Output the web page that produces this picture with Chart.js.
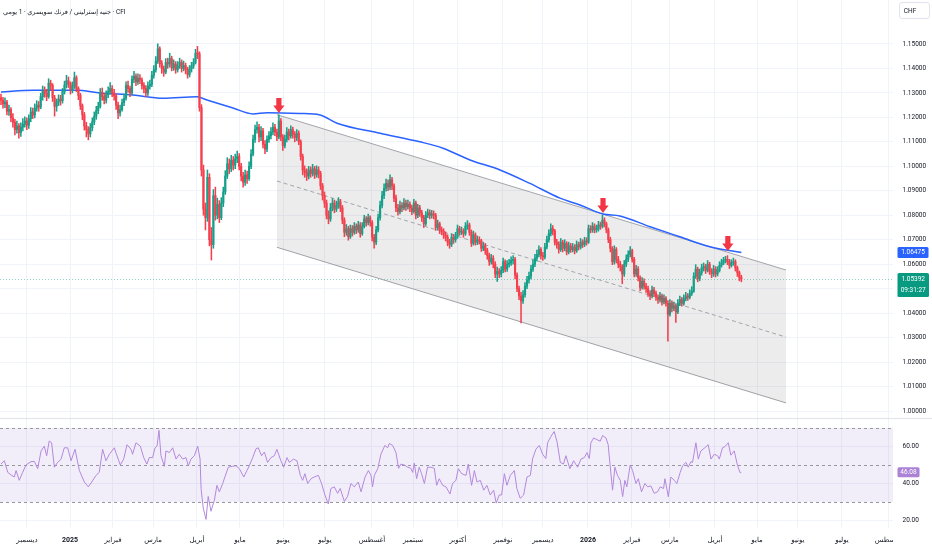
<!DOCTYPE html>
<html><head><meta charset="utf-8">
<script src="https://cdn.jsdelivr.net/npm/chart.js@4.4.1/dist/chart.umd.min.js"></script>
<style>
html,body{margin:0;padding:0;background:#fff;width:932px;height:550px;overflow:hidden}
#main{position:absolute;left:0;top:0;width:932px;height:418px}
#rsi{position:absolute;left:0;top:418px;width:932px;height:132px}
</style></head><body>
<div id="main"><canvas id="c1"></canvas></div>
<div id="rsi"><canvas id="c2"></canvas></div>
<script>
// ---------- DATA (daily candles, bar index 0 = first visible day) ----------
const titleText = 'CFI · جنيه إسترليني / فرنك سويسري · 1 يومي';
const firstOpen = 1.1280;
const closes = [
1.1270,1.1255,1.1262,1.1225,1.1232,1.1198,1.1180,1.1150,1.1165,1.1138,
1.1160,1.1172,1.1185,1.1168,1.1195,1.1222,1.1210,1.1238,1.1250,1.1242,
1.1285,1.1310,1.1300,1.1285,1.1340,1.1330,1.1280,1.1245,1.1262,1.1275,
1.1268,1.1305,1.1332,1.1350,1.1338,1.1310,1.1328,1.1362,1.1318,1.1290,
1.1248,1.1210,1.1165,1.1150,1.1132,1.1158,1.1182,1.1205,1.1228,1.1245,
1.1302,1.1285,1.1270,1.1292,1.1305,1.1318,1.1300,1.1288,1.1250,1.1218,
1.1232,1.1260,1.1278,1.1330,1.1318,1.1300,1.1355,1.1368,1.1345,1.1360,
1.1352,1.1330,1.1318,1.1300,1.1328,1.1335,1.1372,1.1395,1.1430,1.1480,
1.1420,1.1398,1.1385,1.1425,1.1418,1.1440,1.1402,1.1418,1.1395,1.1410,
1.1425,1.1400,1.1412,1.1395,1.1375,1.1398,1.1410,1.1425,1.1462,1.1460,
1.1240,1.0985,1.0825,1.0790,1.0955,1.0700,1.0680,1.0880,1.0800,1.0845,
1.0790,1.0850,1.0895,1.0960,1.1010,1.0990,1.1025,1.1005,1.1030,1.1040,
1.1000,1.0960,1.0935,1.0965,1.0950,1.1000,1.1050,1.1110,1.1150,1.1160,
1.1120,1.1145,1.1090,1.1070,1.1110,1.1125,1.1140,1.1160,1.1140,1.1120,
1.1185,1.1120,1.1085,1.1110,1.1140,1.1125,1.1150,1.1130,1.1118,1.1135,
1.1100,1.1040,1.0985,1.0975,1.0960,1.0985,1.0970,1.0990,1.0965,1.0985,
1.0970,1.0920,1.0880,1.0850,1.0800,1.0785,1.0830,1.0850,1.0825,1.0840,
1.0855,1.0830,1.0780,1.0730,1.0745,1.0712,1.0745,1.0730,1.0755,1.0740,
1.0760,1.0725,1.0755,1.0785,1.0770,1.0790,1.0770,1.0710,1.0690,1.0740,
1.0790,1.0840,1.0880,1.0910,1.0930,1.0915,1.0945,1.0920,1.0870,1.0830,
1.0815,1.0840,1.0830,1.0850,1.0835,1.0845,1.0830,1.0815,1.0850,1.0800,
1.0830,1.0810,1.0790,1.0765,1.0800,1.0810,1.0800,1.0805,1.0800,1.0750,
1.0765,1.0740,1.0735,1.0720,1.0710,1.0690,1.0680,1.0710,1.0700,1.0715,
1.0745,1.0730,1.0735,1.0725,1.0755,1.0760,1.0730,1.0685,1.0720,1.0690,
1.0700,1.0695,1.0665,1.0675,1.0655,1.0635,1.0610,1.0625,1.0600,1.0560,
1.0570,1.0560,1.0575,1.0610,1.0580,1.0600,1.0605,1.0615,1.0620,1.0555,
1.0500,1.0470,1.0450,1.0475,1.0510,1.0535,1.0550,1.0580,1.0600,1.0625,
1.0640,1.0660,1.0635,1.0630,1.0670,1.0700,1.0725,1.0745,1.0735,1.0690,
1.0680,1.0660,1.0690,1.0665,1.0685,1.0650,1.0675,1.0660,1.0670,1.0655,
1.0680,1.0670,1.0690,1.0680,1.0695,1.0690,1.0745,1.0740,1.0755,1.0740,
1.0745,1.0760,1.0755,1.0780,1.0765,1.0740,1.0700,1.0665,1.0610,1.0660,
1.0620,1.0600,1.0590,1.0560,1.0600,1.0620,1.0640,1.0655,1.0620,1.0560,
1.0580,1.0545,1.0505,1.0530,1.0510,1.0500,1.0480,1.0470,1.0495,1.0480,
1.0465,1.0455,1.0470,1.0445,1.0460,1.0440,1.0395,1.0440,1.0420,1.0430,
1.0405,1.0440,1.0455,1.0440,1.0460,1.0470,1.0465,1.0480,1.0490,1.0550,
1.0580,1.0540,1.0565,1.0585,1.0590,1.0575,1.0600,1.0570,1.0560,1.0580,
1.0560,1.0575,1.0595,1.0605,1.0615,1.0620,1.0610,1.0595,1.0605,1.0610,
1.0585,1.0565,1.0545,1.0539];
const highs = [
1.1295,1.1282,1.1280,1.1270,1.1250,1.1240,1.1215,1.1192,1.1185,1.1175,
1.1178,1.1195,1.1202,1.1198,1.1210,1.1240,1.1238,1.1255,1.1268,1.1265,
1.1298,1.1328,1.1325,1.1315,1.1358,1.1352,1.1338,1.1290,1.1275,1.1292,
1.1290,1.1318,1.1348,1.1372,1.1365,1.1345,1.1345,1.1385,1.1370,1.1325,
1.1298,1.1255,1.1220,1.1180,1.1162,1.1175,1.1198,1.1222,1.1245,1.1262,
1.1318,1.1320,1.1298,1.1308,1.1325,1.1342,1.1330,1.1315,1.1295,1.1262,
1.1250,1.1275,1.1295,1.1345,1.1348,1.1328,1.1370,1.1388,1.1378,1.1378,
1.1375,1.1362,1.1342,1.1330,1.1345,1.1352,1.1388,1.1412,1.1448,1.1500,
1.1488,1.1432,1.1410,1.1440,1.1442,1.1462,1.1450,1.1435,1.1428,1.1428,
1.1442,1.1435,1.1430,1.1422,1.1405,1.1412,1.1425,1.1440,1.1478,1.1490,
1.1468,1.1252,1.1005,1.0850,1.0985,1.0970,1.0750,1.0905,1.0915,1.0870,
1.0860,1.0872,1.0915,1.0982,1.1035,1.1030,1.1045,1.1040,1.1050,1.1062,
1.1052,1.1012,1.0975,1.0985,1.0980,1.1018,1.1068,1.1128,1.1168,1.1182,
1.1172,1.1162,1.1155,1.1105,1.1125,1.1142,1.1158,1.1178,1.1172,1.1152,
1.1210,1.1195,1.1130,1.1128,1.1158,1.1152,1.1165,1.1160,1.1142,1.1150,
1.1145,1.1108,1.1050,1.1002,1.0990,1.1000,1.0998,1.1008,1.1000,1.1002,
1.0998,1.0980,1.0930,1.0895,1.0862,1.0818,1.0848,1.0868,1.0862,1.0858,
1.0872,1.0865,1.0840,1.0790,1.0762,1.0755,1.0760,1.0758,1.0770,1.0765,
1.0775,1.0770,1.0770,1.0800,1.0795,1.0805,1.0798,1.0778,1.0722,1.0755,
1.0805,1.0858,1.0898,1.0928,1.0948,1.0945,1.0965,1.0955,1.0928,1.0882,
1.0845,1.0858,1.0852,1.0868,1.0862,1.0862,1.0855,1.0842,1.0865,1.0858,
1.0845,1.0840,1.0820,1.0800,1.0815,1.0825,1.0822,1.0820,1.0818,1.0808,
1.0780,1.0772,1.0752,1.0745,1.0732,1.0720,1.0702,1.0725,1.0722,1.0730,
1.0760,1.0755,1.0752,1.0745,1.0770,1.0778,1.0768,1.0740,1.0735,1.0728,
1.0715,1.0712,1.0702,1.0690,1.0685,1.0665,1.0645,1.0640,1.0635,1.0610,
1.0588,1.0582,1.0590,1.0625,1.0618,1.0615,1.0620,1.0630,1.0635,1.0628,
1.0565,1.0510,1.0485,1.0492,1.0525,1.0550,1.0568,1.0595,1.0618,1.0640,
1.0658,1.0675,1.0668,1.0648,1.0685,1.0715,1.0740,1.0765,1.0758,1.0742,
1.0702,1.0692,1.0705,1.0698,1.0700,1.0692,1.0690,1.0685,1.0685,1.0680,
1.0695,1.0690,1.0705,1.0700,1.0710,1.0708,1.0760,1.0758,1.0770,1.0765,
1.0760,1.0775,1.0772,1.0800,1.0790,1.0772,1.0748,1.0710,1.0672,1.0675,
1.0668,1.0632,1.0612,1.0598,1.0615,1.0638,1.0655,1.0672,1.0662,1.0628,
1.0595,1.0590,1.0552,1.0545,1.0540,1.0522,1.0510,1.0492,1.0510,1.0505,
1.0490,1.0475,1.0485,1.0478,1.0475,1.0468,1.0450,1.0455,1.0450,1.0445,
1.0438,1.0455,1.0470,1.0465,1.0475,1.0485,1.0480,1.0495,1.0508,1.0565,
1.0598,1.0588,1.0580,1.0600,1.0605,1.0600,1.0615,1.0608,1.0582,1.0595,
1.0590,1.0590,1.0610,1.0620,1.0628,1.0632,1.0635,1.0620,1.0618,1.0625,
1.0618,1.0592,1.0572,1.0555];
const lows = [
1.1252,1.1238,1.1240,1.1210,1.1208,1.1182,1.1160,1.1128,1.1135,1.1115,
1.1122,1.1145,1.1160,1.1150,1.1155,1.1182,1.1195,1.1198,1.1225,1.1225,
1.1235,1.1270,1.1282,1.1268,1.1278,1.1312,1.1265,1.1205,1.1225,1.1248,
1.1250,1.1258,1.1295,1.1320,1.1322,1.1295,1.1300,1.1318,1.1305,1.1272,
1.1232,1.1190,1.1148,1.1120,1.1108,1.1120,1.1145,1.1170,1.1192,1.1215,
1.1238,1.1270,1.1255,1.1258,1.1280,1.1295,1.1285,1.1270,1.1232,1.1195,
1.1205,1.1225,1.1248,1.1270,1.1302,1.1285,1.1292,1.1342,1.1330,1.1335,
1.1338,1.1315,1.1300,1.1285,1.1290,1.1315,1.1325,1.1360,1.1385,1.1420,
1.1405,1.1380,1.1368,1.1378,1.1400,1.1405,1.1390,1.1392,1.1380,1.1385,
1.1400,1.1385,1.1390,1.1378,1.1360,1.1365,1.1385,1.1400,1.1418,1.1440,
1.1225,1.0960,1.0800,1.0740,1.0775,1.0675,1.0617,1.0665,1.0780,1.0785,
1.0770,1.0782,1.0835,1.0885,1.0950,1.0970,1.0978,1.0985,1.0990,1.1015,
1.0985,1.0940,1.0915,1.0922,1.0930,1.0942,1.0990,1.1042,1.1098,1.1135,
1.1100,1.1105,1.1075,1.1052,1.1060,1.1098,1.1112,1.1128,1.1125,1.1105,
1.1112,1.1105,1.1065,1.1075,1.1100,1.1108,1.1115,1.1115,1.1100,1.1105,
1.1088,1.1025,1.0965,1.0955,1.0942,1.0948,1.0955,1.0960,1.0950,1.0955,
1.0952,1.0905,1.0862,1.0832,1.0785,1.0765,1.0775,1.0818,1.0810,1.0815,
1.0828,1.0815,1.0765,1.0712,1.0718,1.0698,1.0705,1.0715,1.0722,1.0725,
1.0730,1.0710,1.0718,1.0748,1.0755,1.0760,1.0755,1.0695,1.0665,1.0680,
1.0732,1.0780,1.0830,1.0868,1.0898,1.0900,1.0905,1.0905,1.0855,1.0815,
1.0800,1.0805,1.0815,1.0822,1.0820,1.0825,1.0815,1.0802,1.0808,1.0785,
1.0790,1.0795,1.0775,1.0750,1.0758,1.0790,1.0785,1.0788,1.0785,1.0738,
1.0740,1.0725,1.0720,1.0705,1.0695,1.0675,1.0665,1.0672,1.0685,1.0690,
1.0705,1.0718,1.0720,1.0710,1.0718,1.0742,1.0718,1.0672,1.0678,1.0678,
1.0680,1.0682,1.0652,1.0655,1.0640,1.0620,1.0595,1.0600,1.0585,1.0545,
1.0530,1.0545,1.0548,1.0565,1.0568,1.0570,1.0588,1.0595,1.0600,1.0540,
1.0488,1.0455,1.0360,1.0440,1.0465,1.0500,1.0522,1.0540,1.0570,1.0590,
1.0612,1.0630,1.0620,1.0615,1.0622,1.0662,1.0690,1.0715,1.0720,1.0678,
1.0665,1.0645,1.0652,1.0650,1.0655,1.0638,1.0642,1.0648,1.0650,1.0642,
1.0648,1.0658,1.0662,1.0668,1.0672,1.0678,1.0685,1.0728,1.0730,1.0728,
1.0730,1.0735,1.0742,1.0748,1.0752,1.0728,1.0688,1.0650,1.0598,1.0600,
1.0605,1.0585,1.0572,1.0520,1.0550,1.0590,1.0610,1.0630,1.0608,1.0548,
1.0550,1.0532,1.0492,1.0498,1.0498,1.0485,1.0468,1.0455,1.0462,1.0468,
1.0452,1.0440,1.0445,1.0432,1.0438,1.0428,1.0285,1.0388,1.0405,1.0410,
1.0362,1.0398,1.0430,1.0428,1.0432,1.0450,1.0452,1.0458,1.0472,1.0485,
1.0542,1.0528,1.0532,1.0555,1.0572,1.0562,1.0568,1.0558,1.0545,1.0550,
1.0548,1.0552,1.0568,1.0588,1.0598,1.0605,1.0598,1.0582,1.0588,1.0595,
1.0572,1.0550,1.0532,1.0528];

// moving average (blue line), read at sample bars
const maBars = [0,16,38,50,66.5,81.6,98.7,103.8,116.9,127,134,150.6,160.7,169.3,191,211,222.7,236.3,251.4,266.5,281.6,291.7,303.3,311.8,327,342,357.2,373];
const maValues = [1.1304,1.1311,1.1311,1.1300,1.1291,1.1278,1.1284,1.1271,1.1238,1.1214,1.1219,1.1216,1.1210,1.1176,1.1135,1.1100,1.1074,1.1026,1.0985,1.0930,1.0870,1.0842,1.0805,1.0797,1.0753,1.0712,1.0671,1.06475];

// descending channel
const channelBars  = [139, 395.5];
const channelUpper = [1.1211, 1.0576];
const channelLower = [1.0669, 1.0033];
const channelMid   = [1.0940, 1.0302];

// red arrows (tip position)
const arrowBars = [140, 303.3, 366.2];
const arrowTips = [1.1218, 1.0809, 1.0654];

// RSI
const rsiBars = [0,1.7,3.4,5,6.7,7.6,9.2,10.9,12.6,15.1,16.8,18.5,20.2,21.8,23,24.3,25.5,26.9,28.5,30.2,31.9,33.6,35.3,37.3,39.5,42,44,45.7,47.9,49.5,51.2,52.9,54.6,57.1,57.9,60.1,61.8,63.5,65.5,66.3,68,70.2,71.9,73.5,74.7,76.4,77.6,78.6,79.6,80.6,82.3,83.1,84.8,86.5,88.2,89.8,91.5,93.2,94.4,95.7,97.4,99.1,100.3,100.8,101.9,103.3,104.4,105.8,107.5,108.8,110,111.7,112.8,114.5,116.7,118.4,120.1,122.3,123.9,125.1,126.8,128.5,129.6,131.3,132.7,134.3,136,137.7,139,140.7,142.4,144.1,145.3,147.4,149.1,150.8,152,153.1,154.5,156.2,157.8,159.9,161.5,163.2,164.9,166.2,167.9,169.6,170.9,173,174.6,176.3,178,180,181.4,183.4,185.1,
186.4,187.2,188.1,189.8,191.4,193.4,194.8,195.6,197.3,199,200.3,201.5,203.2,204.9,206.5,207.4,208.2,209.4,210.7,211.9,213.3,214.9,216.6,218.3,219.5,220.8,222.5,224.2,226.2,227.5,229.2,230.4,232.1,234.3,235.4,237.1,238.5,239.8,241.5,243.2,244.8,246.5,248.2,249.5,251,252.2,253.6,254.9,256.6,258.6,259.9,261.6,263.3,265,266.7,267.8,269.5,271.2,272.9,274.5,275.4,277.1,278.7,280.1,281.8,283.4,284.6,286.6,288.5,290.5,292.2,293.9,295.2,296.4,297.2,298.6,300.2,301.9,303.1,304.8,305.9,306.9,308.1,309.3,310.6,312,313.2,314.3,315.3,317,318.2,319.9,321.1,322.7,324.4,325.8,327.4,329.1,330.8,332.1,333.8,334.5,336.2,337.5,339.2,340.5,342.2,343.4,345.1,346.2,347.6,348.4,350.1,351.3,352.6,354.6,356.3,357.7,359.3,361,361.9,363.5,364.7,366.4,367.7,369.4,371.1,372.4,373];
const rsiValues = [50.5,52.3,46,44.7,43.5,47,41.7,46,50,51.8,52,48,57.6,60.2,55,63,62,48.8,51.4,53,59.3,59.3,52.3,58.5,47,40.8,38.2,40.8,44.4,46,58.5,52.3,55.8,59.3,56.7,50,53.2,61,58.5,55.8,62,60.2,54,50.5,54,54,59.3,60.2,68.7,55,49.3,57.6,56.7,59.3,53.2,55.8,53.2,54,49.6,53.2,55,60.2,53.2,37.3,26.7,20.6,33,25,31,39,35.5,40,43.5,48.8,49.3,49.6,48,43.5,47,49.6,54,58.8,59.3,55,57,51.4,54,55,58.5,53.2,48.8,54,51.4,53.2,52.3,44.4,41.7,45.3,40,42.6,43.5,44.4,40,33.8,28.9,37.3,38.2,34.7,37.3,30.3,33,40,38.2,40.8,35.5,43.5,47,
44.4,38.2,44.4,48,55.8,60.6,59.3,61.6,60.6,56.7,48.2,50.5,50,48.8,48.2,46,51,42.6,48.8,45.3,40,48.8,48.8,48.2,39,42.6,39,38.2,34.3,40,41.7,48,45.3,44.4,50.5,39,47,40.8,41.7,36.4,39,33.8,36.4,29.4,33.8,33.8,45.3,39,44.4,47,37.3,32,33.8,43.5,44.4,53.2,58.5,60.6,55.8,53.5,62,65.5,68.1,62.7,51.4,50.5,55,48,52.3,48.8,53.2,54,56.7,53.5,62,64.6,63.7,62.9,65.9,64.6,61,49.6,36.4,48.8,44.4,41.7,32.9,41.7,38.2,50,47,40,42.6,35.5,40,38.2,38.7,34.7,35.5,38.2,37.3,42.6,32.9,43.5,41.7,40,46,49.6,51.4,48.8,51.8,51.4,62,53.2,57.6,59.3,61,53.2,55.8,55,53.2,59.3,59.9,62,55.3,57.6,49.6,45.8,46.08];
const rsiLevels = [70, 50, 30];

// axes
const monthTickBars = [13.1,34.8,56.4,76.6,98.7,120.4,142.1,163.2,186.9,207.6,230.2,252.9,273,295.7,317.9,337,359.7,380.9,401.5,423.7,446.9];
const monthTickLabels = ['ديسمبر','2025','فبراير','مارس','أبريل','مايو','يونيو','يوليو','أغسطس','سبتمبر','أكتوبر','نوفمبر','ديسمبر','2026','فبراير','مارس','أبريل','مايو','يونيو','يوليو','أغسطس'];
const priceTicks = [1.00,1.01,1.02,1.03,1.04,1.05,1.06,1.07,1.08,1.09,1.10,1.11,1.12,1.13,1.14,1.15];
const rsiTicks = [20, 40, 60];
const lastPrice = 1.05392, lastMA = 1.06475, lastRSI = 46.08, countdown = '09:31:27';
const currencyLabel = 'CHF';

// ---------- RENDER ----------
const FONT = "Roboto, 'DejaVu Sans', sans-serif";
const UP = '#16a08a', DN = '#f43f4d', GRID = '#f0f3fa', TXT = '#131722';
const X_MIN = -0.5, X_MAX = 449.4;
const opens = closes.map((c, i) => i === 0 ? firstOpen : closes[i - 1]); // FX daily open = prior close
const candleColors = closes.map((c, i) => c >= opens[i] ? UP : DN);
const pts = (xs, ys) => xs.map((b, i) => ({x: b, y: ys[i]}));

function rrect(ctx, x, y, w, h, r) {
  ctx.beginPath();
  ctx.moveTo(x + r, y); ctx.lineTo(x + w - r, y); ctx.quadraticCurveTo(x + w, y, x + w, y + r);
  ctx.lineTo(x + w, y + h - r); ctx.quadraticCurveTo(x + w, y + h, x + w - r, y + h);
  ctx.lineTo(x + r, y + h); ctx.quadraticCurveTo(x, y + h, x, y + h - r);
  ctx.lineTo(x, y + r); ctx.quadraticCurveTo(x, y, x + r, y); ctx.closePath();
}

const mainOverlay = {
  id: 'mainOverlay',
  beforeDatasetsDraw(chart) {
    const {ctx, chartArea: a, scales: {y}} = chart;
    const py = Math.round(y.getPixelForValue(lastPrice)) + 0.5;
    ctx.save();
    ctx.strokeStyle = 'rgba(8,153,129,0.45)'; ctx.lineWidth = 1; ctx.setLineDash([1, 2]);
    ctx.beginPath(); ctx.moveTo(a.left, py); ctx.lineTo(a.right, py); ctx.stroke();
    ctx.restore();
  },
  afterDatasetsDraw(chart) {
    const {ctx, scales: {x, y}} = chart;
    ctx.save(); ctx.fillStyle = '#f23645';
    arrowBars.forEach((b, i) => {
      const tx = x.getPixelForValue(b), ty = y.getPixelForValue(arrowTips[i]);
      ctx.beginPath();
      ctx.moveTo(tx - 2.6, ty - 15); ctx.lineTo(tx + 2.6, ty - 15); ctx.lineTo(tx + 2.6, ty - 7.5);
      ctx.lineTo(tx + 5.6, ty - 7.5); ctx.lineTo(tx, ty); ctx.lineTo(tx - 5.6, ty - 7.5); ctx.lineTo(tx - 2.6, ty - 7.5);
      ctx.closePath(); ctx.fill();
    });
    ctx.restore();
  },
  afterDraw(chart) {
    const {ctx, chartArea: a, scales: {y}} = chart;
    ctx.save();
    ctx.font = `6.5px ${FONT}`; ctx.fillStyle = TXT; ctx.textAlign = 'left'; ctx.textBaseline = 'middle';
    priceTicks.forEach(v => ctx.fillText(v.toFixed(5), 902.5, y.getPixelForValue(v)));
    // MA label
    let py = y.getPixelForValue(lastMA);
    ctx.fillStyle = '#2962ff'; rrect(ctx, 897.5, py - 5.5, 31, 11, 1.5); ctx.fill();
    ctx.fillStyle = '#fff'; ctx.textAlign = 'center'; ctx.fillText(lastMA.toFixed(5), 913, py + 0.3);
    // last price label
    py = y.getPixelForValue(lastPrice);
    ctx.fillStyle = '#089981'; rrect(ctx, 897.5, py - 6, 31.5, 24, 1.5); ctx.fill();
    ctx.fillStyle = '#fff'; ctx.fillText(lastPrice.toFixed(5), 913.2, py + 0.3); ctx.fillText(countdown, 913.2, py + 11.5);
    // currency button
    ctx.fillStyle = '#fff'; ctx.strokeStyle = '#e0e3eb'; ctx.lineWidth = 1;
    rrect(ctx, 899.5, 2.5, 30, 16, 2.5); ctx.fill(); ctx.stroke();
    ctx.fillStyle = TXT; ctx.fillText(currencyLabel, 910, 11);
    // title
    ctx.font = `6.5px ${FONT}`; ctx.direction = 'rtl'; ctx.textAlign = 'left'; ctx.fillStyle = TXT;
    ctx.fillText(titleText, 3, 12.5);
    ctx.restore();
  }
};

new Chart(document.getElementById('c1'), {
  type: 'bar',
  data: {datasets: [
    {type: 'line', data: pts(channelBars, channelUpper), borderColor: '#a2a4ab', borderWidth: 1, pointRadius: 0, fill: '+1', backgroundColor: 'rgba(128,128,128,0.15)', order: 10},
    {type: 'line', data: pts(channelBars, channelLower), borderColor: '#a2a4ab', borderWidth: 1, pointRadius: 0, fill: false, order: 10},
    {type: 'line', data: pts(channelBars, channelMid), borderColor: '#a2a4ab', borderWidth: 1, borderDash: [4, 3], pointRadius: 0, fill: false, order: 9},
    {type: 'line', data: pts(maBars, maValues), borderColor: '#2962ff', borderWidth: 1.5, pointRadius: 0, cubicInterpolationMode: 'monotone', fill: false, order: 2},
    {type: 'bar', data: closes.map((c, i) => ({x: i, y: [lows[i], highs[i]]})), backgroundColor: candleColors, barThickness: 0.9, grouped: false, borderWidth: 0, order: 1},
    {type: 'bar', data: closes.map((c, i) => ({x: i, y: [opens[i], c]})), backgroundColor: candleColors, barThickness: 1.5, minBarLength: 1, grouped: false, borderWidth: 0, order: 0}
  ]},
  options: {
    animation: false, responsive: true, maintainAspectRatio: false, layout: {padding: 0},
    plugins: {legend: {display: false}, tooltip: {enabled: false}},
    scales: {
      x: {type: 'linear', min: X_MIN, max: X_MAX, offset: false, ticks: {display: false},
          grid: {color: GRID, drawTicks: false, offset: false}, border: {display: false},
          afterBuildTicks: s => { s.ticks = monthTickBars.map(v => ({value: v})); }},
      y: {position: 'right', min: 0.99714, max: 1.16796, ticks: {display: false},
          grid: {color: GRID, drawTicks: false}, border: {display: false},
          afterBuildTicks: s => { s.ticks = priceTicks.map(v => ({value: v})); },
          afterFit: s => { s.width = 39; }}
    }
  },
  plugins: [mainOverlay]
});

const rsiOverlay = {
  id: 'rsiOverlay',
  beforeDatasetsDraw(chart) {
    const {ctx, chartArea: a, scales: {y}} = chart;
    ctx.save();
    const y70 = y.getPixelForValue(rsiLevels[0]), y30 = y.getPixelForValue(rsiLevels[2]);
    ctx.fillStyle = 'rgba(126,87,194,0.1)'; ctx.fillRect(a.left, y70, a.right - a.left, y30 - y70);
    ctx.strokeStyle = '#9598a1'; ctx.lineWidth = 1; ctx.setLineDash([3, 3]);
    rsiLevels.forEach(v => { const py = Math.round(y.getPixelForValue(v)) + 0.5; ctx.beginPath(); ctx.moveTo(a.left, py); ctx.lineTo(a.right, py); ctx.stroke(); });
    ctx.restore();
  },
  afterDraw(chart) {
    const {ctx, chartArea: a, scales: {y}, width, height} = chart;
    ctx.save();
    ctx.fillStyle = '#fff'; ctx.fillRect(a.right, a.bottom + 1, width - a.right, height - a.bottom);
    ctx.strokeStyle = '#e0e3eb'; ctx.lineWidth = 1; ctx.beginPath(); ctx.moveTo(0, 0.5); ctx.lineTo(width, 0.5); ctx.stroke();
    ctx.font = `6.5px ${FONT}`; ctx.fillStyle = TXT; ctx.textAlign = 'left'; ctx.textBaseline = 'middle';
    rsiTicks.forEach(v => ctx.fillText(v.toFixed(2), 902.5, y.getPixelForValue(v)));
    const py = y.getPixelForValue(lastRSI);
    ctx.fillStyle = '#ab82d6'; rrect(ctx, 897.5, py - 5, 22, 10, 1.5); ctx.fill();
    ctx.fillStyle = '#fff'; ctx.textAlign = 'center'; ctx.fillText(lastRSI.toFixed(2), 908.5, py + 0.3);
    ctx.restore();
  }
};

new Chart(document.getElementById('c2'), {
  type: 'line',
  data: {datasets: [{data: pts(rsiBars, rsiValues), borderColor: '#b388dc', borderWidth: 1, pointRadius: 0, tension: 0, fill: false}]},
  options: {
    animation: false, responsive: true, maintainAspectRatio: false, layout: {padding: 0},
    plugins: {legend: {display: false}, tooltip: {enabled: false}},
    scales: {
      x: {type: 'linear', min: X_MIN, max: X_MAX, offset: false,
          afterBuildTicks: s => { s.ticks = monthTickBars.map(v => ({value: v})); },
          ticks: {autoSkip: false, maxRotation: 0, minRotation: 0, padding: 8, color: TXT,
                  font: c => ({family: FONT, size: 7, weight: /^\d{4}$/.test(monthTickLabels[c.index] || '') ? 'bold' : 'normal'}),
                  callback: (v, i) => monthTickLabels[i]},
          grid: {color: GRID, drawTicks: false}, border: {display: false},
          afterFit: s => { s.height = 22; }},
      y: {position: 'right', min: 15.95, max: 75.4, ticks: {display: false},
          grid: {color: GRID, drawTicks: false}, border: {display: false},
          afterBuildTicks: s => { s.ticks = rsiTicks.map(v => ({value: v})); },
          afterFit: s => { s.width = 39; }}
    }
  },
  plugins: [rsiOverlay]
});
</script>
</body></html>
